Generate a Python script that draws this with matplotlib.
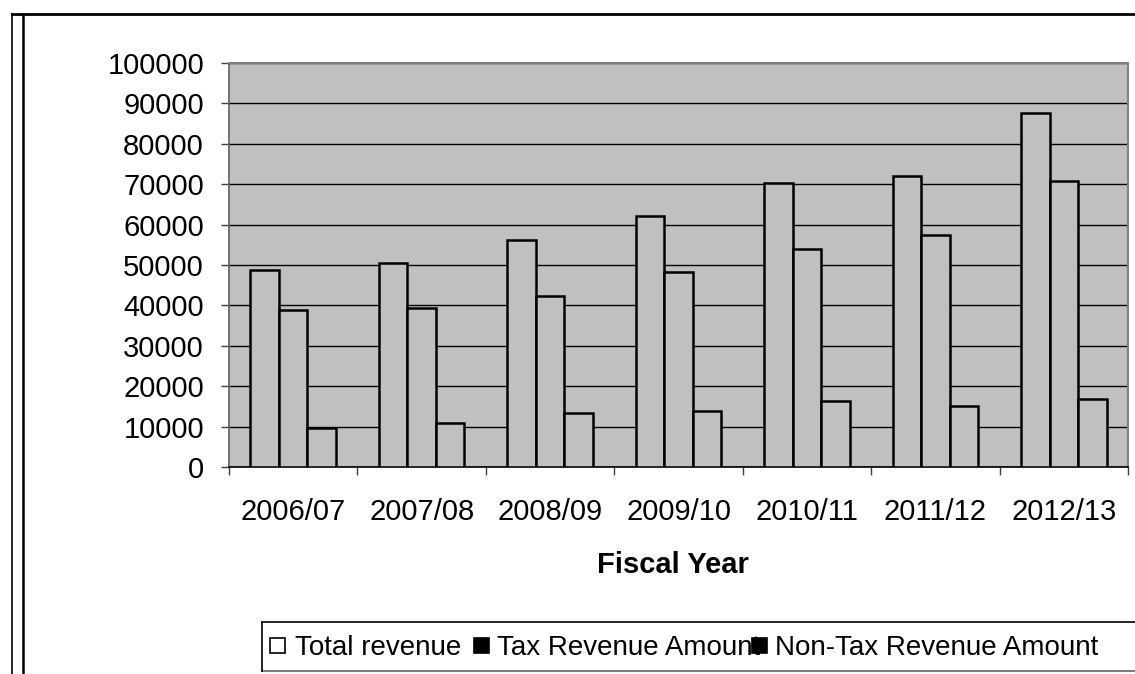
import matplotlib
matplotlib.use("Agg")
import matplotlib.pyplot as plt
import numpy as np
from matplotlib.lines import Line2D
from matplotlib.patches import Rectangle

# values
years = ["2006/07", "2007/08", "2008/09", "2009/10", "2010/11", "2011/12", "2012/13"]
total_revenue = [48800, 50500, 56100, 62100, 70200, 72000, 87700]
tax_revenue = [38900, 39400, 42300, 48200, 53900, 57500, 70900]
non_tax_revenue = [9700, 11000, 13300, 13900, 16300, 15000, 16800]
series_names = ["Total revenue", "Tax Revenue Amount", "Non-Tax Revenue Amount"]
y_ticks = [0, 10000, 20000, 30000, 40000, 50000, 60000, 70000, 80000, 90000, 100000]

W, H = 1135, 674
plt.rcParams["font.family"] = ["Liberation Sans", "DejaVu Sans"]


def fx(px):
    return px / W


def fy(py):
    return 1 - py / H


fig = plt.figure(figsize=(W / 100, H / 100), dpi=100)
ax = fig.add_axes([fx(229), fy(467), 899 / W, 404 / H])
ax.set_facecolor("#C0C0C0")

x = np.arange(len(years)) + 0.5
bar_w = 1 / 4.5
for i, vals in enumerate([total_revenue, tax_revenue, non_tax_revenue]):
    ax.bar(x + (i - 1) * bar_w, vals, bar_w, color="#C0C0C0",
           edgecolor="black", linewidth=1.8, zorder=3)

ax.set_xlim(0, len(years))
ax.set_ylim(0, 100000)
ax.set_yticks(y_ticks)
ax.set_yticklabels([str(v) for v in y_ticks])
ax.yaxis.grid(True, color="black", linewidth=1)
ax.set_axisbelow(True)

# ticks on category boundaries, labels at category centres
ax.set_xticks(np.arange(len(years) + 1))
ax.set_xticklabels([])
ax.set_xticks(x, minor=True)
ax.set_xticklabels(years, minor=True)
ax.tick_params(axis="x", which="minor", length=0, pad=22, labelsize=21)
ax.tick_params(axis="x", which="major", length=6, color="#404040", width=1)
ax.tick_params(axis="y", length=6, pad=12, labelsize=21, color="#404040", width=1)

for side in ["top", "right"]:
    ax.spines[side].set_color("#808080")
    ax.spines[side].set_linewidth(1.5)
ax.spines["left"].set_color("#606060")
ax.spines["left"].set_linewidth(1.2)
ax.spines["bottom"].set_color("black")
ax.spines["bottom"].set_linewidth(1.2)

fig.text(fx(673), fy(565), "Fiscal Year", ha="center", va="center",
         fontsize=21, fontweight="bold")

# outer frame (cut off on the right, like the reference)
fig.add_artist(Line2D([fx(12), fx(W)], [fy(14), fy(14)], color="black", lw=2))
fig.add_artist(Line2D([fx(12), fx(12)], [fy(14), fy(H)], color="black", lw=1.2))
fig.add_artist(Line2D([fx(22.5), fx(22.5)], [fy(14), fy(H)], color="black", lw=1.8))

# legend box, drawn by hand to keep the cramped Excel layout
fig.add_artist(Line2D([fx(262), fx(W)], [fy(622), fy(622)], color="black", lw=1.2))
fig.add_artist(Line2D([fx(262), fx(W)], [fy(671), fy(671)], color="#808080", lw=1.5))
fig.add_artist(Line2D([fx(262), fx(262)], [fy(622), fy(671)], color="black", lw=1.2))

base = fy(655)
sq = 15
legend_marks = [(270, "white"), (474, "black"), (752, "black")]
for left, face in legend_marks:
    fig.add_artist(Rectangle((fx(left), fy(638 + sq)), sq / W, sq / H,
                             facecolor=face, edgecolor="black", lw=1.2,
                             transform=fig.transFigure))
fig.text(fx(461), base, series_names[0], ha="right", va="baseline", fontsize=20)
fig.text(fx(497), base, series_names[1], ha="left", va="baseline", fontsize=20)
fig.text(fx(775), base, series_names[2], ha="left", va="baseline", fontsize=20)

fig.savefig("out.png", dpi=100)
